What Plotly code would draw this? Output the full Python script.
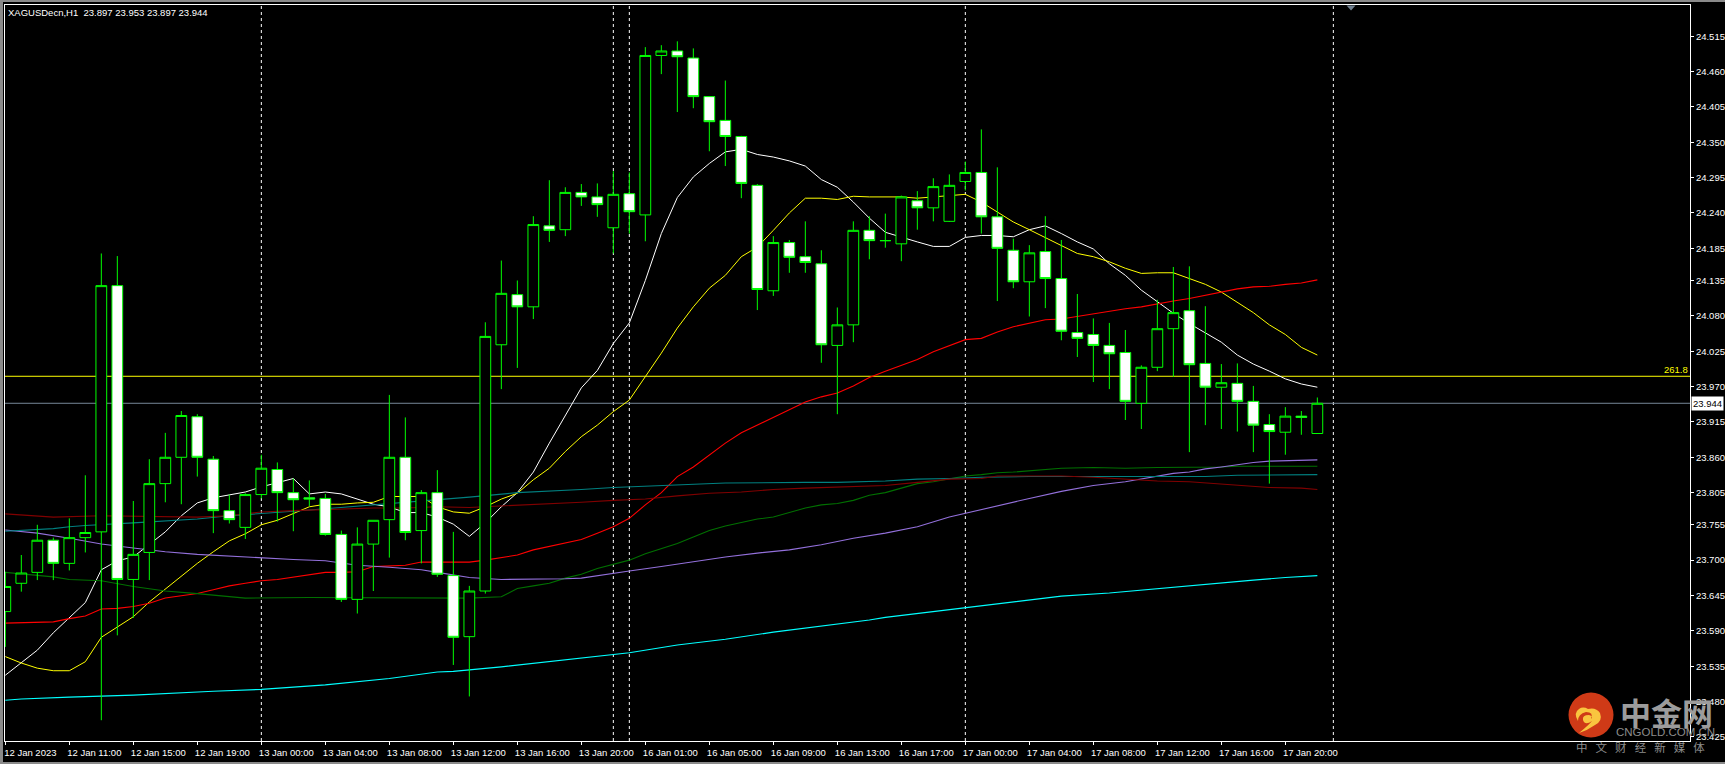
import plotly.graph_objects as go

W, H = 1725, 764
L, R, T, B = 5, 35, 5, 23
FONT = "Liberation Sans"

bar_index = list(range(83))
open_ = [23.620,23.664,23.681,23.731,23.695,23.735,23.744,24.127,23.670,23.712,23.819,23.860,23.923,23.857,23.777,23.751,23.802,23.841,23.805,23.797,
         23.796,23.740,23.639,23.725,23.763,23.860,23.746,23.805,23.676,23.581,23.652,24.035,24.113,24.094,24.220,24.214,24.272,24.265,24.217,24.270,
         24.237,24.485,24.492,24.481,24.421,24.384,24.359,24.283,24.119,24.194,24.172,24.161,24.034,24.066,24.213,24.197,24.192,24.259,24.248,24.227,
         24.289,24.303,24.234,24.182,24.133,24.180,24.138,24.054,24.051,24.034,24.023,23.944,24.000,24.060,24.088,24.006,23.969,23.975,23.947,23.911,
         23.899,23.924,23.897]
high = [23.682,23.708,23.755,23.735,23.765,23.832,24.177,24.173,23.792,23.857,23.898,23.932,23.927,23.862,23.802,23.804,23.864,23.852,23.827,23.824,
        23.803,23.746,23.751,23.762,23.957,23.922,23.809,23.840,23.744,23.660,24.070,24.166,24.135,24.235,24.291,24.280,24.285,24.286,24.305,24.303,
        24.498,24.501,24.507,24.496,24.422,24.446,24.360,24.285,24.204,24.198,24.227,24.182,24.093,24.227,24.235,24.239,24.267,24.274,24.294,24.300,
        24.320,24.370,24.311,24.200,24.190,24.235,24.198,24.114,24.076,24.069,24.058,24.003,24.105,24.156,24.157,24.095,24.005,24.006,23.971,23.927,
        23.938,23.932,23.953]
low = [23.565,23.651,23.669,23.669,23.684,23.712,23.451,23.583,23.610,23.669,23.790,23.787,23.830,23.742,23.757,23.733,23.796,23.760,23.745,23.784,
       23.738,23.635,23.617,23.652,23.704,23.731,23.695,23.674,23.537,23.488,23.648,23.966,23.999,24.075,24.195,24.204,24.251,24.234,24.177,24.208,
       24.196,24.456,24.397,24.403,24.336,24.313,24.263,24.089,24.111,24.147,24.147,24.007,23.927,24.039,24.168,24.186,24.165,24.214,24.227,24.226,
       24.275,24.208,24.103,24.123,24.079,24.092,24.042,24.016,23.977,23.966,23.918,23.904,23.994,23.985,23.868,23.910,23.904,23.900,23.868,23.819,
       23.864,23.895,23.897]
close = [23.659,23.680,23.731,23.695,23.735,23.743,24.127,23.670,23.709,23.819,23.860,23.925,23.860,23.777,23.763,23.802,23.843,23.805,23.794,23.795,
         23.740,23.639,23.725,23.762,23.860,23.743,23.805,23.678,23.580,23.652,24.048,24.115,24.094,24.222,24.213,24.272,24.265,24.253,24.269,24.242,
         24.485,24.492,24.483,24.421,24.382,24.359,24.286,24.121,24.194,24.171,24.163,24.035,24.066,24.213,24.197,24.197,24.265,24.248,24.281,24.283,
         24.303,24.234,24.185,24.133,24.178,24.138,24.056,24.045,24.034,24.021,23.947,24.000,24.060,24.085,24.004,23.969,23.976,23.947,23.910,23.900,
         23.924,23.922,23.944]

ma_white = [23.521,23.540,23.560,23.587,23.610,23.634,23.685,23.699,23.705,23.724,23.744,23.769,23.789,23.797,23.801,23.806,23.814,23.820,23.827,23.803,
            23.806,23.803,23.795,23.787,23.783,23.774,23.774,23.767,23.756,23.737,23.758,23.783,23.805,23.837,23.882,23.926,23.968,23.995,24.037,24.069,
            24.135,24.208,24.264,24.296,24.317,24.335,24.339,24.331,24.327,24.321,24.313,24.292,24.280,24.257,24.232,24.210,24.202,24.195,24.188,24.188,
            24.202,24.205,24.205,24.203,24.214,24.220,24.208,24.195,24.184,24.161,24.143,24.120,24.102,24.084,24.068,24.053,24.039,24.019,24.005,23.994,
            23.982,23.974,23.969]
ma_yellow = [23.550,23.540,23.532,23.528,23.528,23.542,23.580,23.596,23.612,23.635,23.655,23.674,23.695,23.713,23.730,23.741,23.755,23.762,23.773,23.783,
             23.787,23.787,23.789,23.790,23.799,23.799,23.799,23.783,23.775,23.773,23.783,23.795,23.804,23.825,23.843,23.869,23.892,23.910,23.931,23.949,
             23.985,24.022,24.061,24.094,24.123,24.143,24.172,24.187,24.213,24.240,24.263,24.263,24.261,24.266,24.265,24.265,24.265,24.263,24.265,24.266,
             24.269,24.257,24.242,24.226,24.214,24.202,24.190,24.177,24.172,24.164,24.154,24.146,24.147,24.147,24.138,24.129,24.117,24.101,24.085,24.066,
             24.051,24.031,24.019]
ma_red = [23.602,23.603,23.604,23.604,23.609,23.613,23.624,23.625,23.628,23.633,23.641,23.644,23.648,23.654,23.660,23.664,23.668,23.670,23.674,23.678,
          23.681,23.681,23.682,23.690,23.691,23.692,23.697,23.697,23.697,23.697,23.700,23.704,23.708,23.716,23.721,23.726,23.732,23.742,23.752,23.765,
          23.786,23.805,23.830,23.845,23.863,23.882,23.898,23.910,23.922,23.933,23.946,23.954,23.960,23.971,23.984,23.994,24.003,24.012,24.024,24.033,
          24.043,24.045,24.055,24.063,24.068,24.074,24.075,24.079,24.084,24.088,24.091,24.094,24.099,24.103,24.107,24.112,24.117,24.122,24.125,24.126,
          24.129,24.131,24.136]

green_idx = [0,3,4,6,8,10,12,14,15,19,24,27,29,31,32,33,34,35,36,37,38,39,40,41,42,43,44,45,46,47,48,49,50,51,52,53,54,55,56,57,58,59,60,61,62,63,64,65,66,68,70,72,75,76,77,82]
ma_green = [23.681,23.674,23.670,23.668,23.659,23.652,23.648,23.643,23.641,23.642,23.641,23.641,23.641,23.643,23.656,23.660,23.664,23.672,23.678,23.687,23.694,23.700,23.710,23.718,23.726,23.736,23.746,23.753,23.759,23.764,23.767,23.774,23.781,23.786,23.788,23.793,23.801,23.805,23.812,23.819,23.822,23.827,23.831,23.833,23.836,23.837,23.839,23.841,23.843,23.844,23.843,23.844,23.844,23.845,23.846,23.846]

purple_idx = [0,2,4,6,8,10,12,14,16,18,20,22,24,26,27,28,29,31,33,35,36,37,38,39,41,43,45,47,49,51,53,55,57,59,60,62,64,66,68,70,72,73,74,75,76,77,78,79,80,81,82]
ma_purple = [23.747,23.742,23.734,23.725,23.719,23.713,23.709,23.706,23.703,23.701,23.699,23.692,23.689,23.685,23.681,23.677,23.673,23.670,23.670,23.671,23.672,23.676,23.680,23.683,23.690,23.698,23.705,23.711,23.716,23.724,23.734,23.742,23.752,23.767,23.773,23.785,23.796,23.807,23.816,23.822,23.830,23.835,23.837,23.842,23.845,23.849,23.852,23.854,23.855,23.856,23.856]

teal_idx = [0,3,4,5,8,10,12,14,16,18,20,22,24,26,27,29,32,34,36,38,40,42,45,50,52,55,57,59,61,64,75,77,81,82]
ma_teal = [23.745,23.749,23.752,23.754,23.758,23.761,23.764,23.769,23.772,23.776,23.780,23.784,23.787,23.791,23.794,23.798,23.805,23.807,23.810,23.813,23.815,23.818,23.820,23.821,23.821,23.823,23.826,23.827,23.829,23.830,23.830,23.832,23.832,23.833]

darkred_idx = [0,2,3,6,8,12,14,16,18,20,23,25,27,29,32,34,36,38,40,42,44,46,48,50,52,55,57,59,61,62,64,66,68,70,72,74,75,76,77,78,79,81,82]
ma_darkred = [23.772,23.769,23.767,23.769,23.768,23.767,23.769,23.775,23.777,23.779,23.781,23.781,23.783,23.782,23.785,23.787,23.790,23.793,23.795,23.800,23.804,23.806,23.810,23.812,23.814,23.816,23.821,23.826,23.827,23.831,23.831,23.831,23.829,23.826,23.823,23.822,23.820,23.819,23.817,23.815,23.813,23.812,23.810]

cyan_idx = [0,1,4,8,13,16,20,24,27,28,31,34,37,39,42,45,48,51,54,55,58,60,63,66,69,72,75,78,80,82]
ma_cyan = [23.482,23.484,23.487,23.490,23.496,23.499,23.506,23.516,23.526,23.527,23.534,23.542,23.551,23.556,23.568,23.577,23.588,23.597,23.607,23.611,23.620,23.626,23.636,23.644,23.649,23.656,23.662,23.669,23.673,23.676]

period_separators = [16, 38, 39, 60, 83]
fib_level = 23.986
fib_label = "261.8"
last_price = 23.944
shift_marker = 84

price_ticks = [24.515,24.460,24.405,24.350,24.295,24.240,24.185,24.135,24.080,24.025,23.970,23.915,23.860,23.805,23.755,23.700,23.645,23.590,23.535,23.480,23.425]
time_tick_idx = list(range(0, 81, 4))
time_ticks = ["12 Jan 2023","12 Jan 11:00","12 Jan 15:00","12 Jan 19:00","13 Jan 00:00","13 Jan 04:00","13 Jan 08:00","13 Jan 12:00","13 Jan 16:00","13 Jan 20:00",
              "16 Jan 01:00","16 Jan 05:00","16 Jan 09:00","16 Jan 13:00","16 Jan 17:00","17 Jan 00:00","17 Jan 04:00","17 Jan 08:00","17 Jan 12:00","17 Jan 16:00","17 Jan 20:00"]
header = "XAGUSDecn,H1  23.897 23.953 23.897 23.944"
brand_name = "<b>中金网</b>"
brand_site = "CNGOLD.COM.CN"
brand_slogan = "\u2002\u2009".join("中文财经新媒体")

X_RANGE = [-0.02, 105.29]
Y_RANGE = [23.4187, 24.5635]
PW, PH = W - L - R, H - T - B


def px(x, y):
    return (x - L) / PW, 1 - (y - T) / PH


def path(*segs):
    out = []
    for s in segs:
        if isinstance(s, str):
            out.append(s)
        else:
            a, b = px(*s)
            out.append(f"{a:.5f},{b:.5f}")
    return " ".join(out)


fig = go.Figure()

lines = [
    (bar_index, ma_white, "#ffffff", 1),
    (bar_index, ma_yellow, "#ffff00", 1),
    (bar_index, ma_red, "#ff0000", 1.1),
    (green_idx, ma_green, "#007000", 1.1),
    (purple_idx, ma_purple, "#9370db", 1.1),
    (teal_idx, ma_teal, "#008080", 1.1),
    (darkred_idx, ma_darkred, "#800000", 1.1),
    (cyan_idx, ma_cyan, "#00ffff", 1.1),
]
for xs, ys, col, w in lines:
    fig.add_trace(go.Scatter(x=xs, y=ys, mode="lines", line=dict(color=col, width=w), hoverinfo="skip", showlegend=False))

fig.add_trace(go.Candlestick(
    x=bar_index, open=open_, high=high, low=low, close=close,
    xaxis="x2", yaxis="y2", showlegend=False, whiskerwidth=0, hoverinfo="skip",
    increasing=dict(line=dict(color="#00ff00", width=1), fillcolor="#000000"),
    decreasing=dict(line=dict(color="#00ff00", width=1), fillcolor="#ffffff"),
))

shapes = []
for s in period_separators:
    shapes.append(dict(type="line", xref="x", yref="paper", x0=s, x1=s, y0=0, y1=1, layer="below",
                       line=dict(color="#ffffff", width=1, dash="3px,3px")))
shapes.append(dict(type="line", xref="paper", yref="y", x0=0, x1=1, y0=fib_level, y1=fib_level, layer="below",
                   line=dict(color="#ffff00", width=1)))
shapes.append(dict(type="line", xref="paper", yref="y", x0=0, x1=1, y0=last_price, y1=last_price, layer="below",
                   line=dict(color="#778899", width=1)))

# window chrome
for x0, y0, x1, y1 in [(0, 0, W, 2), (0, 0, 3, H), (0, 762, W, H)]:
    a0, b0 = px(x0, y0)
    a1, b1 = px(x1, y1)
    shapes.append(dict(type="rect", xref="paper", yref="paper", x0=a0, x1=a1, y0=b0, y1=b1,
                       fillcolor="#8a8a8a", line=dict(width=0), layer="above"))

# shift marker at top of the chart
sx = 5.33 + 16 * shift_marker + 1.7
shapes.append(dict(type="path", xref="paper", yref="paper",
                   path=path("M", (sx - 4.5, 5.5), "L", (sx + 4.5, 5.5), "L", (sx, 10.5), "Z"),
                   fillcolor="#708090", line=dict(width=0), layer="above"))

# watermark logo
cx, cy, r = 1591, 715, 22.5
a0, b0 = px(cx - r, cy - r)
a1, b1 = px(cx + r, cy + r)
shapes.append(dict(type="circle", xref="paper", yref="paper", x0=a0, x1=a1, y0=b0, y1=b1,
                   fillcolor="#cf3a17", line=dict(width=0), layer="above"))
shapes.append(dict(type="path", xref="paper", yref="paper", layer="above",
                   path=path("M", (1578, 721), "Q", (1573, 713), (1579, 709), "Q", (1583, 706), (1588, 709),
                             "Q", (1596, 707), (1600, 713), "Q", (1603, 721), (1595, 725),
                             "Q", (1588, 730), (1579, 733), "Q", (1590, 724), (1592, 721),
                             "Q", (1585, 726), (1583, 720), "Q", (1582, 715), (1589, 715),
                             "Q", (1594, 716), (1591, 719), "Q", (1594, 712), (1586, 712),
                             "Q", (1578, 714), (1578, 721), "Z"),
                   fillcolor="#f9c53f", line=dict(width=0)))

annots = []
annots.append(dict(text=fib_label, xref="paper", yref="y", x=1, y=fib_level, xanchor="right", yanchor="bottom",
                   showarrow=False, font=dict(family=FONT, size=9.5, color="#ffff00"), xshift=0, yshift=-1))
annots.append(dict(text=f"{last_price:.3f}", xref="paper", yref="y", x=1, y=last_price, xanchor="left", yanchor="middle",
                   showarrow=False, bgcolor="#ffffff", borderpad=1, font=dict(family=FONT, size=9.5, color="#000000"), xshift=1))
for text, x, y, size, fam, col in [
    (brand_name, 1666, 711, 31, "Noto Sans CJK SC", "#9c9c9c"),
    (brand_site, 1665, 732, 11.5, "Liberation Sans", "#8c8c8c"),
    (brand_slogan, 1640, 747, 11.5, "Noto Sans CJK SC", "#8c8c8c"),
]:
    a, b = px(x, y)
    annots.append(dict(text=text, xref="paper", yref="paper", x=a, y=b, xanchor="center", yanchor="middle",
                       showarrow=False, font=dict(family=fam, size=size, color=col)))

axis_common = dict(showgrid=False, zeroline=False, color="#ffffff", linecolor="#ffffff", linewidth=1,
                   showline=True, mirror=True, ticks="outside", tickcolor="#ffffff", ticklen=3, tickwidth=1,
                   automargin=False, tickfont=dict(family=FONT, size=9.5, color="#ffffff"))

fig.update_layout(
    width=W, height=H, paper_bgcolor="#000000", plot_bgcolor="#000000",
    margin=dict(l=L, r=R, t=T, b=B, pad=0, autoexpand=False), showlegend=False, hovermode=False, dragmode=False,
    boxgap=0.16, boxgroupgap=0.2,
    title=dict(text=header, x=8 / W, xref="container", xanchor="left", y=1 - 12.5 / H, yref="container", yanchor="middle",
               font=dict(family=FONT, size=9.5, color="#ffffff")),
    xaxis=dict(range=X_RANGE, tickmode="array", tickvals=time_tick_idx, ticktext=time_ticks, tickangle=0,
               ticklabelshift=25, **axis_common),
    yaxis=dict(range=Y_RANGE, side="right", tickmode="array", tickvals=price_ticks,
               ticktext=[f"{v:.3f}" for v in price_ticks], **axis_common),
    xaxis2=dict(range=X_RANGE, overlaying="x", anchor="y2", visible=False, rangeslider=dict(visible=False), automargin=False),
    yaxis2=dict(range=Y_RANGE, overlaying="y", anchor="x2", visible=False, automargin=False),
    shapes=shapes, annotations=annots,
)

fig.write_html("out.html", config=dict(displayModeBar=False),
               post_script="document.body.style.margin='0';document.body.style.background='#000';document.body.style.overflow='hidden';")
